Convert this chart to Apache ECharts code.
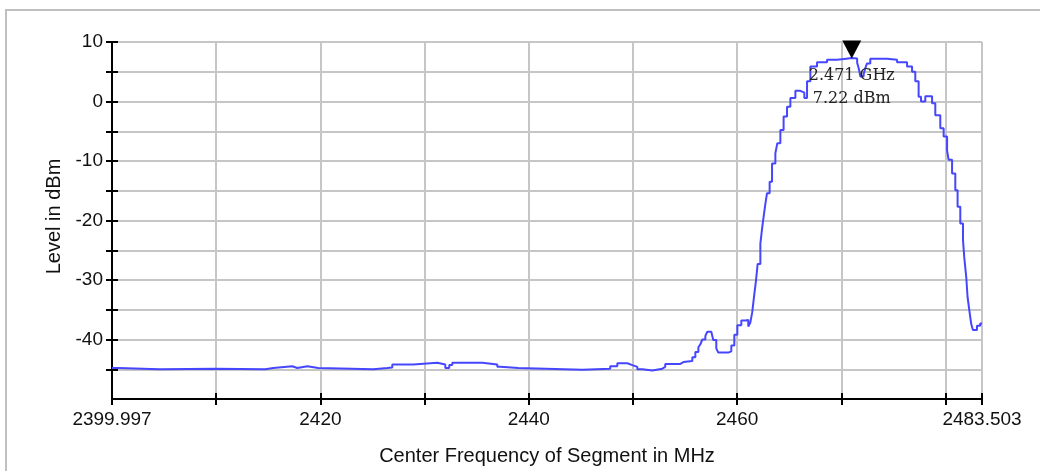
<!DOCTYPE html>
<html>
<head>
<meta charset="utf-8">
<script src="https://cdn.jsdelivr.net/npm/echarts@6/dist/echarts.min.js"></script>
<style>
  html, body { margin: 0; padding: 0; background: #fff; }
  #chart { width: 1040px; height: 471px; }
</style>
</head>
<body>
<div id="chart"></div>
<script>
// trace: frequency in MHz, level in dBm (held until the next point)
const freqs = [
  2399.997, 2400.6, 2404.57, 2409.91, 2414.71, 2415.48, 2417.3, 2417.78, 2418.75, 2419.8,
  2425.08, 2426.42, 2426.9, 2428.92, 2431.22, 2431.99, 2432.37, 2432.66, 2435.54, 2436.98,
  2437.27, 2438.99, 2445.14, 2447.82, 2448.5, 2449.46, 2449.94, 2450.42, 2450.9, 2451.86,
  2452.82, 2453.1, 2454.55, 2454.84, 2455.7, 2455.99, 2456.28, 2456.47, 2456.66, 2456.95,
  2457.14, 2457.52, 2457.71, 2458.0, 2458.19, 2459.15, 2459.44, 2459.73, 2460.02, 2460.4,
  2460.79, 2461.07, 2461.26, 2461.45, 2461.64, 2461.79, 2461.97, 2462.23, 2462.39, 2462.54,
  2462.71, 2462.87, 2463.12, 2463.35, 2463.67, 2463.86, 2464.15, 2464.46, 2464.79, 2465.11,
  2465.59, 2466.07, 2466.45, 2466.71, 2467.03, 2467.67, 2468.63, 2469.59, 2470.48, 2471.0,
  2471.52, 2471.68, 2471.83, 2472.14, 2472.3, 2472.47, 2472.78, 2474.39, 2475.35, 2476.31,
  2476.79, 2477.1, 2477.42, 2477.65, 2478.06, 2478.38, 2478.71, 2479.02, 2479.5, 2479.82,
  2480.15, 2480.3, 2480.63, 2480.94, 2481.16, 2481.42, 2481.68, 2481.8, 2481.99, 2482.12,
  2482.31, 2482.47, 2482.63, 2483.02, 2483.33, 2483.503
];
const levels = [
  -44.8, -45.0, -44.9, -45.0, -44.8, -44.5, -44.8, -44.5, -44.8, -45.0,
  -44.8, -44.7, -44.2, -43.9, -44.2, -44.8, -44.3, -43.9, -44.2, -44.6,
  -44.8, -45.1, -44.9, -44.5, -44.0, -44.3, -44.6, -45.0, -45.2, -44.9,
  -44.6, -44.1, -43.8, -43.6, -43.0, -42.1, -41.3, -40.8, -40.0, -39.4,
  -38.7, -39.0, -40.1, -41.5, -42.2, -42.0, -41.0, -39.2, -37.6, -36.8,
  -36.7, -37.8, -37.2, -35.4, -32.5, -30.4, -27.3, -23.9, -21.4, -19.4,
  -17.2, -15.4, -13.5, -10.4, -8.7, -7.0, -4.8, -2.5, -0.9, 0.6,
  1.8, 1.5, 0.6, 3.4, 5.9, 6.6, 7.0, 7.2, 7.3, 7.22,
  6.5, 5.5, 4.2, 4.6, 5.6, 6.4, 7.2, 7.0, 6.6, 5.9,
  5.0, 3.4, 0.8, 0.0, 0.9, 0.9, -0.3, -2.3, -4.5, -5.9,
  -8.2, -9.8, -12.1, -14.9, -17.7, -20.5, -23.3, -26.2, -29.5, -32.9,
  -35.4, -37.4, -38.4, -37.7, -37.3, -37.3
];

const xTickValues = [2399.997, 2410, 2420, 2430, 2440, 2450, 2460, 2470, 2480, 2483.503];
const xLabelValues = [2399.997, 2420, 2440, 2460, 2483.503];
const yTickValues = [-45, -40, -35, -30, -25, -20, -15, -10, -5, 0, 5, 10];
const yLabelValues = [-40, -30, -20, -10, 0, 10];

const markerFreq = 2471.0;
const markerLevel = 7.22;

const xMin = 2399.997;
const xMax = 2483.503;
const yMin = -50;
const yMax = 10;

const chart = echarts.init(document.getElementById("chart"), null, { renderer: "canvas" });

const axisFont = "'Liberation Sans', Arial, sans-serif";
const blackLine = { color: "#000", width: 2 };

chart.setOption({
  animation: false,
  backgroundColor: "#fff",
  graphic: [
    {
      // outer frame, runs off the right and bottom edges
      type: "rect",
      x: 6,
      y: 10,
      shape: { x: 0, y: 0, width: 1100, height: 600 },
      style: { fill: "none", stroke: "#c0c0c0", lineWidth: 2 },
      silent: true,
    },
  ],
  grid: {
    left: 112,
    right: 58,
    top: 42,
    bottom: 72,
    containLabel: false,
    outerBoundsMode: "none",
  },
  xAxis: [
    {
      type: "value",
      min: xMin,
      max: xMax,
      position: "bottom",
      name: "Center Frequency of Segment in MHz",
      nameLocation: "middle",
      nameGap: 47,
      nameTextStyle: { fontFamily: axisFont, fontSize: 20, color: "#111" },
      axisLine: { show: true, onZero: false, lineStyle: blackLine },
      axisTick: { show: true, length: 6, lineStyle: blackLine, customValues: xTickValues },
      axisLabel: {
        show: true,
        customValues: xLabelValues,
        margin: 11,
        fontFamily: axisFont,
        fontSize: 19,
        color: "#111",
        formatter: (v) => String(v),
      },
      splitLine: { show: true, lineStyle: { color: "#c6c6c6", width: 2 } },
    },
    {
      type: "value",
      min: xMin,
      max: xMax,
      position: "bottom",
      axisLine: { show: false, onZero: false },
      axisTick: { show: true, inside: true, length: 6, lineStyle: blackLine, customValues: xTickValues },
      axisLabel: { show: false },
      splitLine: { show: false },
    },
  ],
  yAxis: [
    {
      type: "value",
      min: yMin,
      max: yMax,
      interval: 5,
      position: "left",
      name: "Level in dBm",
      nameLocation: "middle",
      nameGap: 46,
      nameTextStyle: { fontFamily: axisFont, fontSize: 20, color: "#111", padding: [0, 0, 0, 8] },
      axisLine: { show: true, onZero: false, lineStyle: blackLine },
      axisTick: { show: true, length: 6, lineStyle: blackLine, customValues: yTickValues },
      axisLabel: {
        show: true,
        customValues: yLabelValues,
        margin: 9,
        fontFamily: axisFont,
        fontSize: 19,
        color: "#111",
      },
      splitLine: { show: true, lineStyle: { color: "#c6c6c6", width: 2 } },
    },
    {
      type: "value",
      min: yMin,
      max: yMax,
      interval: 5,
      position: "left",
      axisLine: { show: false, onZero: false },
      axisTick: { show: true, inside: true, length: 6, lineStyle: blackLine, customValues: yTickValues },
      axisLabel: { show: false },
      splitLine: { show: false },
    },
  ],
  series: [
    {
      name: "trace",
      type: "line",
      xAxisIndex: 0,
      yAxisIndex: 0,
      step: "end",
      showSymbol: false,
      symbol: "none",
      lineStyle: { color: "#4646ff", width: 2 },
      data: freqs.map((f, i) => [f, levels[i]]),
      markPoint: {
        silent: true,
        data: [
          {
            coord: [markerFreq, markerLevel],
            symbol: "path://M0,0 L20,0 L10,19 Z",
            symbolSize: [19, 18],
            symbolOffset: [0, -9],
            itemStyle: { color: "#000" },
            label: {
              show: true,
              position: "bottom",
              distance: 6,
              formatter: (markerFreq / 1000).toFixed(3) + " GHz\n" + markerLevel.toFixed(2) + " dBm",
              fontFamily: "'DejaVu Serif', serif",
              fontSize: 16,
              lineHeight: 23,
              color: "#222",
              align: "center",
            },
          },
        ],
      },
    },
  ],
});
</script>
</body>
</html>
